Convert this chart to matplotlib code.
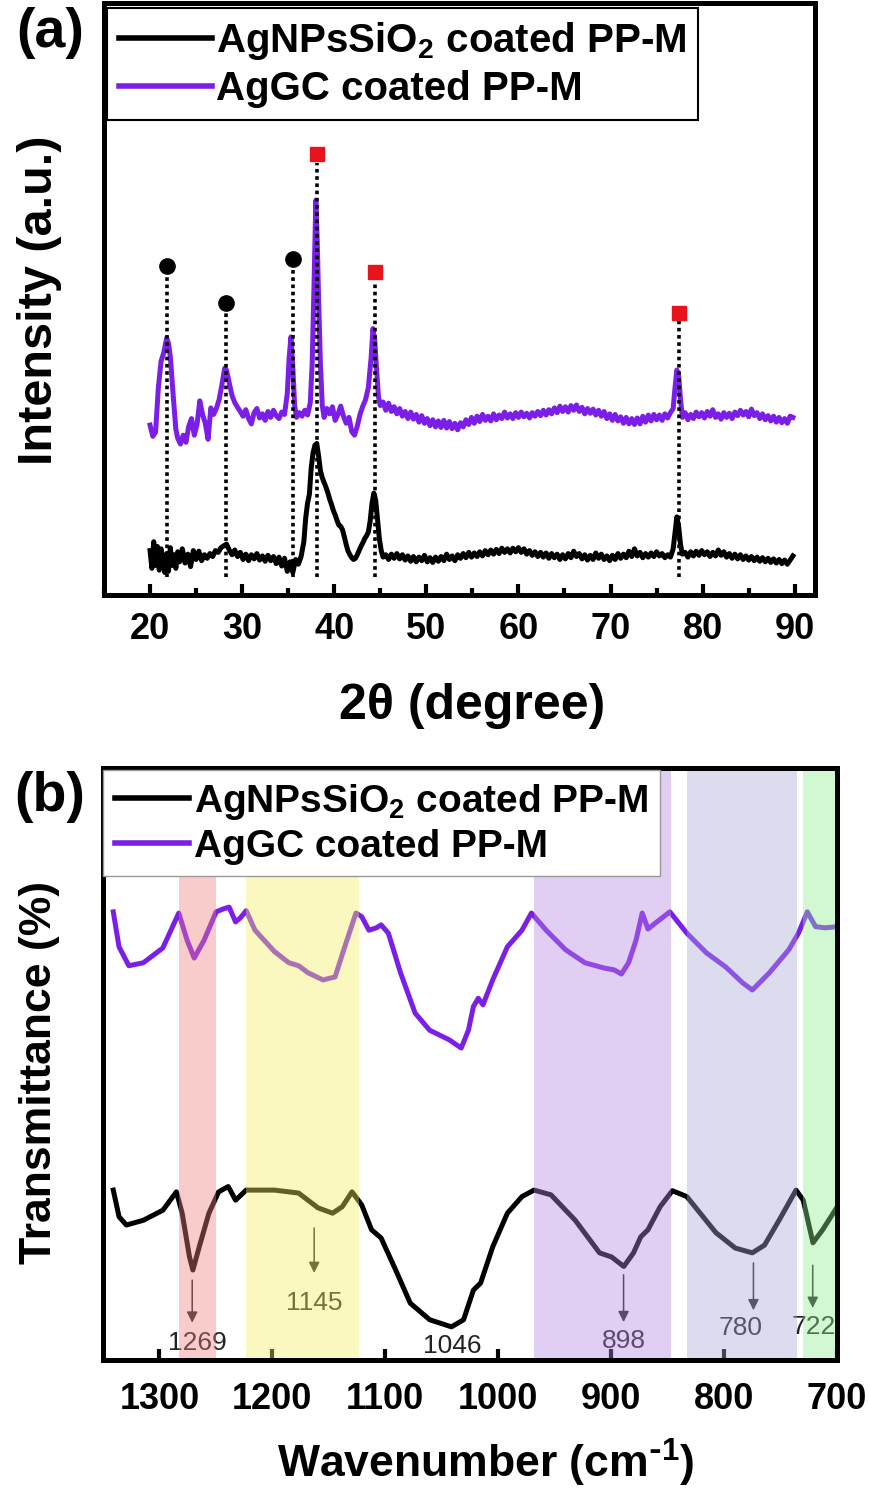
import matplotlib
matplotlib.use("Agg")
import matplotlib.pyplot as plt
from matplotlib.ticker import MultipleLocator

# ---------------- DATA ----------------
# (a) XRD patterns: 2theta (degree), intensity (a.u., offset)
agc_xrd_theta = [20.0, 20.3, 20.6, 20.9, 21.2, 21.5, 21.8, 22.0, 22.2, 22.5, 22.8, 23.0, 23.3, 23.6, 23.9,
                 24.2, 24.5, 24.8, 25.1, 25.4, 25.7, 26.0, 26.3, 26.6, 26.9, 27.2, 27.5, 27.8, 28.1, 28.3,
                 28.6, 28.9, 29.2, 29.5, 29.8, 30.1, 30.4, 30.7, 31.0, 31.3, 31.6, 31.9, 32.2, 32.5, 32.8,
                 33.1, 33.4, 33.7, 34.0, 34.3, 34.6, 34.9, 35.1, 35.3, 35.5, 35.7, 35.9, 36.2, 36.5, 36.8,
                 37.1, 37.4, 37.6, 37.8, 38.0, 38.15, 38.3, 38.5, 38.7, 38.9, 39.2, 39.5, 39.8, 40.1, 40.4,
                 40.7, 41.0, 41.3, 41.6, 41.9, 42.2, 42.5, 42.8, 43.1, 43.4, 43.7, 44.0, 44.2, 44.4, 44.6,
                 44.8, 45.0, 45.3, 45.6, 45.9, 46.2, 46.5, 46.8, 47.1, 47.4, 47.7, 48.0, 48.3, 48.6, 48.9,
                 49.2, 49.5, 49.8, 50.1, 50.4, 50.7, 51.0, 51.3, 51.6, 51.9, 52.2, 52.5, 52.8, 53.1, 53.4,
                 53.7, 54.0, 54.3, 54.6, 54.9, 55.2, 55.5, 55.8, 56.1, 56.4, 56.7, 57.0, 57.3, 57.6, 57.9,
                 58.2, 58.5, 58.8, 59.1, 59.4, 59.7, 60.0, 60.3, 60.6, 60.9, 61.2, 61.5, 61.8, 62.1, 62.4,
                 62.7, 63.0, 63.3, 63.6, 63.9, 64.2, 64.5, 64.8, 65.1, 65.4, 65.7, 66.0, 66.3, 66.6, 66.9,
                 67.2, 67.5, 67.8, 68.1, 68.4, 68.7, 69.0, 69.3, 69.6, 69.9, 70.2, 70.5, 70.8, 71.1, 71.4,
                 71.7, 72.0, 72.3, 72.6, 72.9, 73.2, 73.5, 73.8, 74.1, 74.4, 74.7, 75.0, 75.3, 75.6, 75.9,
                 76.2, 76.5, 76.8, 77.0, 77.2, 77.4, 77.6, 77.8, 78.1, 78.4, 78.7, 79.0, 79.3, 79.6, 79.9,
                 80.2, 80.5, 80.8, 81.1, 81.4, 81.7, 82.0, 82.3, 82.6, 82.9, 83.2, 83.5, 83.8, 84.1, 84.4,
                 84.7, 85.0, 85.3, 85.6, 85.9, 86.2, 86.5, 86.8, 87.1, 87.4, 87.7, 88.0, 88.3, 88.6, 88.9,
                 89.2, 89.5, 89.8]
agc_xrd_int = [28.7, 26.8, 27.5, 35.0, 39.5, 41.0, 43.4, 42.5, 40.3, 34.0, 28.0, 26.5, 25.5, 27.0, 25.8,
               28.5, 29.8, 27.0, 28.8, 32.8, 30.5, 29.0, 26.3, 31.6, 30.5, 31.5, 33.0, 35.5, 38.3, 38.0,
               35.8, 33.7, 32.5, 31.7, 31.0, 30.2, 31.3, 29.8, 28.9, 30.8, 31.5, 29.9, 30.6, 29.5, 31.0,
               30.0, 31.2, 30.3, 29.8, 30.9, 30.5, 34.0, 40.0, 43.6, 38.5, 32.0, 30.0, 30.8, 30.2, 31.2,
               30.4, 32.5, 39.0, 52.0, 66.7, 60.0, 50.0, 39.0, 32.0, 30.0, 31.5, 30.6, 31.8, 29.5, 30.5,
               31.9, 30.2, 29.0, 30.0, 27.6, 27.0, 28.5, 30.5, 31.9, 33.0, 35.0, 40.0, 45.0, 43.0, 38.0,
               33.5, 32.0, 32.6, 31.2, 32.4, 31.0, 31.8, 30.6, 31.5, 30.2, 31.0, 29.8, 30.9, 29.7, 30.5,
               29.2, 30.3, 29.0, 29.8, 28.6, 29.6, 28.4, 29.4, 28.3, 29.5, 28.2, 29.3, 28.1, 29.0, 27.9,
               29.1, 28.4, 29.6, 28.8, 30.0, 29.0, 30.2, 29.3, 30.5, 29.5, 30.2, 29.4, 30.6, 29.6, 30.4,
               29.8, 30.9, 29.9, 30.6, 29.8, 30.8, 30.0, 30.9, 30.1, 30.7, 29.9, 30.8, 30.2, 31.0, 30.3,
               31.2, 30.4, 31.3, 30.6, 31.6, 30.8, 31.9, 31.0, 31.8, 30.9, 32.0, 31.2, 32.1, 31.0, 31.7,
               30.6, 31.5, 30.7, 31.4, 30.4, 31.2, 30.2, 31.0, 29.8, 30.6, 29.5, 30.5, 29.4, 30.1, 29.0,
               30.0, 28.9, 29.8, 28.8, 29.9, 28.9, 30.2, 29.2, 30.4, 29.4, 30.5, 29.6, 30.4, 29.5, 30.6,
               29.9, 30.8, 31.5, 35.0, 38.0, 37.0, 33.0, 30.0, 30.8, 29.6, 30.5, 29.8, 30.9, 30.1, 30.8,
               29.9, 31.0, 30.2, 31.3, 30.0, 30.6, 29.7, 30.8, 30.0, 30.7, 29.8, 30.9, 30.3, 31.2, 30.4,
               31.0, 30.1, 31.4, 30.3, 30.8, 29.8, 30.6, 29.6, 30.3, 29.4, 30.2, 29.2, 30.0, 29.1, 29.8,
               29.0, 30.2, 30.0]

agnps_xrd_theta = [20.0, 20.2, 20.4, 20.6, 20.8, 21.0, 21.2, 21.4, 21.6, 21.8, 22.0, 22.2, 22.4, 22.6, 22.8,
                   23.0, 23.2, 23.5, 23.8, 24.1, 24.4, 24.7, 25.0, 25.3, 25.6, 25.9, 26.2, 26.5, 26.8, 27.1,
                   27.4, 27.7, 28.0, 28.3, 28.6, 28.9, 29.2, 29.5, 29.8, 30.1, 30.4, 30.7, 31.0, 31.3, 31.6,
                   31.9, 32.2, 32.5, 32.8, 33.1, 33.4, 33.7, 34.0, 34.3, 34.6, 34.9, 35.2, 35.5, 35.8, 36.1,
                   36.4, 36.7, 36.9, 37.1, 37.3, 37.5, 37.7, 37.9, 38.1, 38.3, 38.5, 38.7, 38.9, 39.1, 39.3,
                   39.5, 39.7, 39.9, 40.1, 40.3, 40.5, 40.7, 40.9, 41.1, 41.3, 41.5, 41.7, 41.9, 42.1, 42.3,
                   42.5, 42.7, 42.9, 43.1, 43.3, 43.5, 43.7, 43.9, 44.1, 44.3, 44.5, 44.7, 44.9, 45.1, 45.3,
                   45.6, 45.9, 46.2, 46.5, 46.8, 47.1, 47.4, 47.7, 48.0, 48.3, 48.6, 48.9, 49.2, 49.5, 49.8,
                   50.1, 50.4, 50.7, 51.0, 51.3, 51.6, 51.9, 52.2, 52.5, 52.8, 53.1, 53.4, 53.7, 54.0, 54.3,
                   54.6, 54.9, 55.2, 55.5, 55.8, 56.1, 56.4, 56.7, 57.0, 57.3, 57.6, 57.9, 58.2, 58.5, 58.8,
                   59.1, 59.4, 59.7, 60.0, 60.3, 60.6, 60.9, 61.2, 61.5, 61.8, 62.1, 62.4, 62.7, 63.0, 63.3,
                   63.6, 63.9, 64.2, 64.5, 64.8, 65.1, 65.4, 65.7, 66.0, 66.3, 66.6, 66.9, 67.2, 67.5, 67.8,
                   68.1, 68.4, 68.7, 69.0, 69.3, 69.6, 69.9, 70.2, 70.5, 70.8, 71.1, 71.4, 71.7, 72.0, 72.3,
                   72.6, 72.9, 73.2, 73.5, 73.8, 74.1, 74.4, 74.7, 75.0, 75.3, 75.6, 75.9, 76.2, 76.5, 76.8,
                   77.0, 77.2, 77.4, 77.6, 77.8, 78.1, 78.4, 78.7, 79.0, 79.3, 79.6, 79.9, 80.2, 80.5, 80.8,
                   81.1, 81.4, 81.7, 82.0, 82.3, 82.6, 82.9, 83.2, 83.5, 83.8, 84.1, 84.4, 84.7, 85.0, 85.3,
                   85.6, 85.9, 86.2, 86.5, 86.8, 87.1, 87.4, 87.7, 88.0, 88.3, 88.6, 88.9, 89.2, 89.5, 89.8]
agnps_xrd_int = [7.5, 4.5, 9.0, 5.0, 8.2, 4.2, 7.8, 5.5, 3.8, 7.0, 4.0, 8.0, 5.0, 6.8, 4.5,
                 7.3, 5.6, 7.8, 5.4, 6.9, 4.8, 7.5, 6.0, 7.4, 5.8, 6.8, 6.2, 7.0, 6.5, 7.5,
                 7.2, 8.0, 8.3, 8.6, 7.6, 6.8, 7.6, 6.5, 7.2, 6.0, 6.9, 5.8, 6.8, 6.1, 7.0,
                 5.9, 6.6, 5.7, 6.7, 5.8, 6.5, 5.3, 6.4, 4.9, 6.2, 4.0, 5.6, 3.8, 6.0, 5.2,
                 6.5, 9.0, 13.0, 15.5, 17.0, 21.5, 24.0, 25.3, 25.6, 23.5, 21.0, 19.8, 19.0, 18.2, 17.3,
                 16.2, 15.3, 14.3, 13.5, 12.6, 11.8, 11.6, 11.0, 9.8, 8.5, 7.4, 6.8, 6.3, 6.0, 6.2,
                 6.8, 7.5, 8.2, 8.8, 9.5, 10.0, 10.6, 12.5, 15.5, 17.2, 16.0, 12.8, 9.5, 7.5, 6.4,
                 6.8, 6.0, 6.9, 6.2, 7.0, 6.1, 6.8, 5.9, 6.6, 5.7, 6.5, 5.6, 6.4, 5.8, 6.7,
                 5.6, 6.3, 5.5, 6.4, 5.7, 6.5, 5.8, 6.9, 6.0, 6.6, 5.8, 6.8, 6.2, 7.0, 6.3,
                 7.2, 6.4, 7.1, 6.5, 7.3, 6.6, 7.5, 6.8, 7.6, 6.9, 7.7, 7.0, 7.9, 7.2, 7.8,
                 7.1, 7.9, 7.3, 8.0, 7.2, 7.8, 6.9, 7.5, 6.7, 7.3, 6.5, 7.2, 6.4, 7.1, 6.2,
                 7.0, 6.3, 6.9, 6.0, 6.8, 6.1, 7.0, 6.3, 7.4, 6.5, 7.0, 6.1, 6.8, 5.9, 6.7,
                 6.0, 7.1, 6.2, 6.9, 6.0, 6.6, 5.8, 6.7, 6.0, 7.0, 6.2, 6.9, 6.3, 7.4, 6.5,
                 7.8, 6.6, 7.2, 6.3, 7.0, 6.4, 7.1, 6.5, 7.3, 6.6, 7.0, 6.3, 6.8, 6.4, 7.8,
                 10.5, 13.2, 11.5, 8.5, 6.9, 7.2, 6.4, 7.3, 6.6, 7.4, 6.7, 7.5, 6.8, 7.3, 6.5,
                 7.2, 6.6, 7.6, 6.7, 7.3, 6.4, 7.0, 6.2, 6.9, 6.1, 6.8, 6.0, 6.6, 5.9, 6.5,
                 5.8, 6.4, 5.7, 6.3, 5.6, 6.2, 5.5, 6.1, 5.4, 6.0, 5.3, 5.9, 5.2, 5.9, 6.6]

# (a) phase markers: position (2theta) and marker height
circle_theta = [21.8, 28.2, 35.5]
circle_height = [55.5, 49.4, 56.7]
square_theta = [38.1, 44.4, 77.4]
square_height = [74.5, 54.6, 47.7]
guide_bottom = 3.0

# (b) FTIR spectra: wavenumber (cm-1), transmittance (a.u., offset)
agc_ftir_wn = [1340.9, 1335.8, 1327.1, 1314.3, 1297.0, 1282.9, 1275.5, 1269.2, 1260.5, 1249.8, 1243.4,
               1238.3, 1232.6, 1228.3, 1223.2, 1215.4, 1198.2, 1185.4, 1176.8, 1168.3, 1155.2, 1144.5,
               1135.9, 1126.0, 1120.9, 1114.5, 1108.0, 1103.7, 1097.3, 1086.5, 1073.6, 1060.7, 1043.5,
               1032.8, 1026.4, 1022.0, 1017.7, 1013.5, 1004.9, 991.9, 979.0, 970.6, 957.6, 940.4, 923.2,
               906.0, 897.4, 890.9, 884.6, 878.0, 872.5, 867.4, 860.9, 848.0, 833.0, 815.8, 798.6, 783.5,
               775.0, 759.9, 742.7, 734.1, 726.3, 719.0, 710.5, 699.7]
agc_ftir_t = [75.7, 69.8, 66.6, 67.1, 69.6, 75.5, 70.9, 67.9, 70.9, 75.7, 76.2,
              76.5, 74.0, 74.7, 75.9, 72.6, 69.0, 67.1, 66.6, 65.4, 64.2, 64.7,
              69.8, 75.5, 74.9, 72.6, 73.0, 73.5, 72.1, 65.4, 58.6, 55.7, 54.1,
              52.7, 55.7, 59.7, 61.1, 60.0, 64.2, 69.8, 72.6, 75.5, 72.6, 69.3, 67.1,
              66.2, 65.9, 65.2, 67.1, 70.9, 75.5, 72.8, 73.8, 75.7, 72.1, 68.8, 66.4, 63.7,
              62.5, 65.4, 69.3, 72.1, 75.7, 73.2, 73.0, 73.2]

agnps_ftir_wn = [1340.9, 1335.8, 1329.3, 1314.3, 1297.0, 1285.0, 1279.9, 1273.4, 1270.4, 1264.8, 1256.2,
                 1247.6, 1239.1, 1232.6, 1223.2, 1198.2, 1176.8, 1159.6, 1146.7, 1138.1, 1129.5, 1120.9,
                 1112.2, 1103.7, 1090.8, 1077.9, 1060.7, 1041.4, 1030.7, 1022.0, 1015.6, 1004.9, 991.9,
                 979.0, 968.3, 953.3, 931.8, 910.3, 899.6, 888.8, 880.2, 873.8, 867.4, 856.6, 845.8,
                 833.0, 807.2, 790.0, 775.0, 764.2, 751.3, 736.3, 729.9, 721.3, 712.7, 699.7]
agnps_ftir_t = [28.7, 24.2, 22.8, 23.6, 25.3, 28.4, 24.8, 17.4, 15.2, 19.1, 24.8,
                28.4, 29.3, 27.0, 28.7, 28.7, 28.2, 25.7, 24.8, 25.9, 28.4, 26.2,
                22.0, 20.6, 15.2, 9.6, 6.8, 5.6, 6.8, 11.8, 13.0, 19.1, 24.8,
                27.6, 28.7, 27.9, 23.6, 18.1, 17.4, 15.8, 18.1, 20.8, 22.0, 25.9, 28.6,
                27.6, 21.5, 18.9, 18.1, 19.4, 23.6, 28.7, 27.0, 19.8, 22.0, 25.9]

# (b) highlighted bands (cm-1)
band_lo = [1250, 1123, 847, 735, 700]
band_hi = [1283, 1223, 968, 833, 730]
band_colors = ["#f08080", "#f5ef60", "#b388e0", "#a8a8d8", "#90ee90"]

# (b) peak annotations
peak_labels = ["1269", "1145", "1046", "898", "780", "722"]
peak_arrow_x = [1271, 1163, None, 889, 774, 721.5]
peak_arrow_top = [13.5, 22.3, None, 14.4, 16.4, 16.0]
peak_arrow_bot = [6.3, 14.7, None, 6.4, 8.4, 8.8]
peak_label_x = [1266, 1163, 1041, 889, 785, 721]
peak_label_y = [2.9, 9.6, 2.4, 3.2, 5.4, 5.6]

label_agnps = "AgNPsSiO$_2$ coated PP-M"
label_agc = "AgGC coated PP-M"
purple = "#7b1fe8"
red = "#e8141b"

# ---------------- FIGURE ----------------
plt.rcParams["font.family"] = ["Liberation Sans", "DejaVu Sans"]
plt.rcParams["font.weight"] = "bold"
plt.rcParams["mathtext.default"] = "regular"

W, H = 870, 1500
fig = plt.figure(figsize=(W / 100, H / 100), dpi=100)
axA = fig.add_axes([104 / W, 1 - 595 / H, 711 / W, 592 / H])
axB = fig.add_axes([103 / W, 1 - 1360 / H, 734 / W, 592 / H])

# ---- panel (a) ----
axA.plot(agnps_xrd_theta, agnps_xrd_int, color="black", lw=3.6, label=label_agnps, zorder=2)
axA.plot(agc_xrd_theta, agc_xrd_int, color=purple, lw=3.6, label=label_agc, zorder=2)
for x, y in zip(circle_theta, circle_height):
    axA.plot([x, x], [guide_bottom, y - 1.5], linestyle=(0, (1, 1)), color="black", lw=2.6, zorder=3)
    axA.plot([x], [y], marker="o", ms=11, color="black", zorder=4)
for x, y in zip(square_theta, square_height):
    axA.plot([x, x], [guide_bottom, y - 1.5], linestyle=(0, (1, 1)), color="black", lw=2.6, zorder=3)
    axA.plot([x], [y], marker="s", ms=10.5, color=red, zorder=4)

axA.set_xlim(15, 92.2)
axA.set_ylim(0, 100)
axA.set_yticks([])
axA.xaxis.set_major_locator(MultipleLocator(10))
axA.xaxis.set_minor_locator(MultipleLocator(5))
axA.tick_params(axis="x", which="major", direction="in", length=8, width=3, labelsize=26, pad=12)
axA.tick_params(axis="x", which="minor", direction="in", length=5, width=3)
for s in axA.spines.values():
    s.set_linewidth(3.6)
legA = axA.legend(loc="upper left", bbox_to_anchor=(107 / W, 1 - 8 / H), bbox_transform=fig.transFigure,
                  fontsize=29, frameon=True, fancybox=False, edgecolor="black", framealpha=1,
                  handlelength=2.3, handletextpad=0.1, borderaxespad=0, borderpad=0.3, labelspacing=0.2)
legA.get_frame().set_linewidth(1.5)
for l in legA.get_lines():
    l.set_linewidth(4)

# ---- panel (b) ----
axB.plot(agnps_ftir_wn, agnps_ftir_t, color="black", lw=3.6, label=label_agnps, zorder=2,
         solid_joinstyle="round")
axB.plot(agc_ftir_wn, agc_ftir_t, color=purple, lw=3.6, label=label_agc, zorder=2,
         solid_joinstyle="round")
for lo, hi, c in zip(band_lo, band_hi, band_colors):
    axB.axvspan(lo, hi, color=c, alpha=0.4, lw=0, zorder=3)
for lab, ax_, at, ab, lx, ly in zip(peak_labels, peak_arrow_x, peak_arrow_top, peak_arrow_bot,
                                    peak_label_x, peak_label_y):
    if ax_ is not None:
        axB.annotate("", xy=(ax_, ab), xytext=(ax_, at),
                     arrowprops=dict(arrowstyle="-|>", lw=1.1, color="#222222", mutation_scale=16,
                                     shrinkA=0, shrinkB=0), zorder=1)
    axB.text(lx, ly, lab, ha="center", va="center", fontsize=19, fontweight="normal",
             color="#222222", zorder=1)

axB.set_xlim(1350, 700)
axB.set_ylim(0, 100)
axB.set_yticks([])
axB.set_xticks([1300, 1200, 1100, 1000, 900, 800, 700])
axB.tick_params(axis="x", which="major", direction="in", length=8, width=3, labelsize=26, pad=16)
for s in axB.spines.values():
    s.set_linewidth(3.6)
    s.set_zorder(5)
legB = axB.legend(loc="upper left", bbox_to_anchor=(103 / W, 1 - 770 / H), bbox_transform=fig.transFigure,
                  fontsize=28, frameon=True, fancybox=False, edgecolor="#999999", framealpha=1,
                  handlelength=1.9, handletextpad=0.13, borderaxespad=0, borderpad=0.3, labelspacing=0.18)
legB.set_zorder(6)
legB.get_frame().set_linewidth(1.0)
for l in legB.get_lines():
    l.set_linewidth(4)

# ---- labels ----
fig.text(50 / W, 1 - 33 / H, "(a)", fontsize=40, ha="center", va="center")
fig.text(50 / W, 1 - 797 / H, "(b)", fontsize=40, ha="center", va="center")
fig.text(40 / W, 1 - 300 / H, "Intensity (a.u.)", fontsize=35, rotation=90, ha="center", va="center")
fig.text(40 / W, 1 - 1072 / H, "Transmittance (%)", fontsize=32, rotation=90, ha="center", va="center")
fig.text(472 / W, 1 - 706 / H, "2θ (degree)", fontsize=36, ha="center", va="center")
fig.text(486 / W, 1 - 1463 / H, r"Wavenumber (cm$^{\text{-}1}$)", fontsize=32, ha="center", va="center")

fig.savefig("out.png", dpi=100, facecolor="white")
